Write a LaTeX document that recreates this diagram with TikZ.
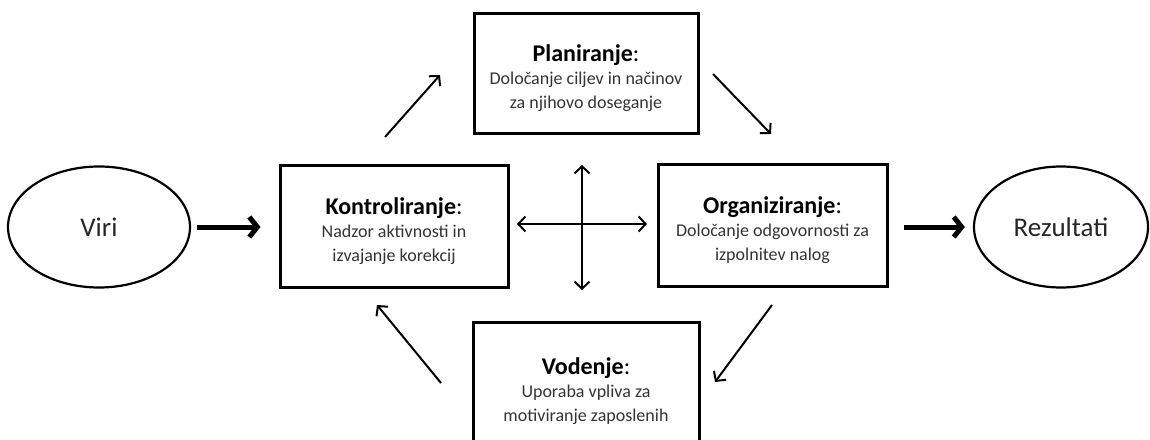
\documentclass[tikz,border=0pt]{standalone}
\usepackage{fontspec}
\setmainfont{Carlito}
\usetikzlibrary{arrows.meta,shapes.geometric}
\newcommand{\ttlf}{\fontsize{24}{26}\selectfont}
\tikzset{
  box/.style={draw=black, line width=3pt, rectangle, inner sep=0pt, align=center,
              font=\fontsize{18}{23.5}\selectfont, text=black!80},
  oval/.style={draw=black, line width=2.2pt, ellipse, inner sep=0pt,
               font=\fontsize{27}{30}\selectfont, text=black!85},
  thin arrow/.style={line width=2pt, -{Straight Barb[length=7pt,width=15pt]}},
  both arrow/.style={line width=2pt, {Straight Barb[length=7pt,width=15pt]}-{Straight Barb[length=7pt,width=15pt]}},
  thick arrow/.style={line width=5pt, -{Straight Barb[length=8pt,width=20pt]}},
}
\newcommand{\ttl}[1]{\rule{0pt}{27pt}{\ttlf\bfseries\color{black}#1}{\ttlf\color{black}:}}
\begin{document}
\begin{tikzpicture}[x=1pt,y=-1pt]
\useasboundingbox (0,0) rectangle (1150,439);
\node[oval, minimum width=182pt, minimum height=121pt] (viri) at (99,227) {Viri};
\node[oval, minimum width=174pt, minimum height=121pt] (rez) at (1061,227) {Rezultati};
\node[box, minimum width=224pt, minimum height=120pt] (plan) at (586,73)
  {\ttl{Planiranje}\\ Določanje ciljev in načinov\\ za njihovo doseganje};
\node[box, minimum width=228pt, minimum height=122pt] (kont) at (394,226)
  {\ttl{Kontroliranje}\\ Nadzor aktivnosti in\\ izvajanje korekcij};
\node[box, minimum width=229pt, minimum height=122pt] (org) at (772.5,225)
  {\ttl{Organiziranje}\\ Določanje odgovornosti za\\ izpolnitev nalog};
\node[box, minimum width=226pt, minimum height=128pt] (vod) at (586,386)
  {\ttl{Vodenje}\\ Uporaba vpliva za\\ motiviranje zaposlenih};
% thick arrows
\draw[thick arrow, shorten <=6pt, shorten >=18pt] (viri.east) -- (kont.west |- viri.east);
\draw[thick arrow, shorten <=15pt, shorten >=8pt] (org.east |- rez.west) -- (rez.west);
% diagonal arrows
\coordinate (ks) at (385,137); \coordinate (pe) at (440,75);
\coordinate (ps) at (713,74);  \coordinate (oe) at (771,134);
\coordinate (os) at (772,305); \coordinate (ve) at (715,382);
\coordinate (vs) at (441,383); \coordinate (ke) at (377,305);
\draw[thin arrow] (ks) -- (pe);
\draw[thin arrow] (ps) -- (oe);
\draw[thin arrow] (os) -- (ve);
\draw[thin arrow] (vs) -- (ke);
% cross
\coordinate (cl) at (517,224); \coordinate (cr) at (647,224);
\coordinate (ct) at (582,165); \coordinate (cb) at (582,290);
\draw[both arrow] (cl) -- (cr);
\draw[both arrow] (ct) -- (cb);
\end{tikzpicture}
\end{document}
